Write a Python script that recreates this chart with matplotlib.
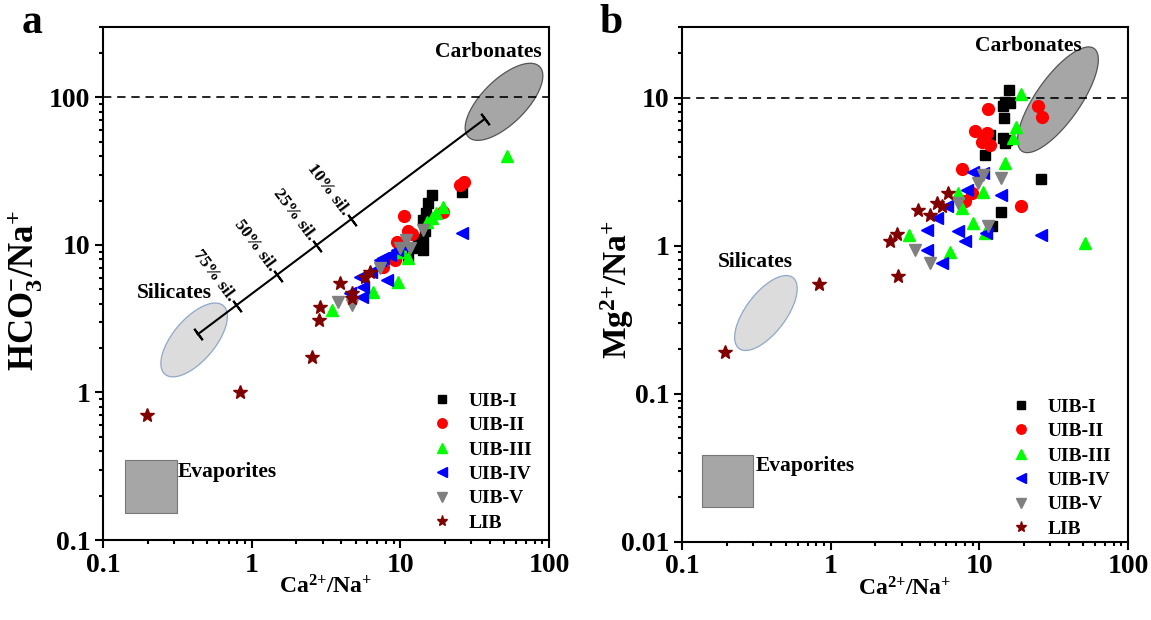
import matplotlib

matplotlib.use("Agg")
import matplotlib.pyplot as plt  # noqa: E402
import numpy as np  # noqa: E402
from matplotlib.patches import Rectangle  # noqa: E402
from matplotlib.ticker import FixedLocator, LogLocator, NullFormatter  # noqa: E402

plt.rcParams["font.family"] = "serif"
plt.rcParams["font.serif"] = ["Liberation Serif", "DejaVu Serif"]
plt.rcParams["font.weight"] = "bold"
plt.rcParams["axes.labelweight"] = "bold"
plt.rcParams["mathtext.fontset"] = "custom"
plt.rcParams["mathtext.rm"] = "Liberation Serif:bold"
plt.rcParams["mathtext.it"] = "Liberation Serif:bold"
plt.rcParams["mathtext.bf"] = "Liberation Serif:bold"

groups = ["UIB-I", "UIB-II", "UIB-III", "UIB-IV", "UIB-V", "LIB"]

# panel a: Ca2+/Na+ vs HCO3-/Na+
uib1_ca_a = [16.2, 15.4, 14.8, 14.3, 14.3, 14.3, 11.3, 11.9, 25.8, 14.6, 13.2]
uib1_hco3_a = [21.8, 19.2, 16.5, 14.8, 10.8, 9.25, 8.13, 9.5, 23.0, 12.5, 11.0]
uib2_ca_a = [25.2, 26.8, 10.6, 11.3, 11.9, 9.45, 9.2, 7.64, 19.4]
uib2_hco3_a = [25.5, 26.5, 15.7, 12.4, 11.9, 10.5, 7.91, 7.13, 16.8]
uib3_ca_a = [19.4, 17.5, 16.2, 15.0, 11.3, 9.68, 6.57, 3.45, 51.9, 10.2]
uib3_hco3_a = [18.2, 16.4, 15.2, 14.4, 8.13, 5.64, 4.82, 3.63, 40.0, 9.0]
uib4_ca_a = [25.8, 9.45, 8.51, 7.69, 7.29, 8.09, 5.35, 5.63, 4.58, 5.49, 6.3, 10.3]
uib4_hco3_a = [12.0, 9.25, 8.55, 8.13, 7.91, 5.79, 6.10, 5.22, 4.71, 4.46, 6.6, 10.0]
uib5_ca_a = [14.3, 10.9, 9.94, 11.6, 7.29, 3.82, 4.70]
uib5_hco3_a = [12.6, 10.8, 9.5, 9.5, 6.95, 4.13, 3.92]
lib_ca_a = [6.25, 5.78, 3.93, 4.70, 4.75, 2.88, 2.85, 2.53, 0.198, 0.83]
lib_hco3_a = [6.59, 6.10, 5.50, 4.71, 4.40, 3.82, 3.10, 1.75, 0.70, 1.0]

# panel b: Ca2+/Na+ vs Mg2+/Na+
uib1_ca_b = [15.9, 14.9, 16.1, 14.5, 14.7, 14.5, 15.3, 14.9, 10.9, 26.0, 14.1, 12.1, 11.8]
uib1_mg_b = [11.3, 9.4, 9.17, 8.79, 7.26, 5.32, 5.18, 4.92, 4.10, 2.81, 1.70, 1.35, 5.6]
uib2_ca_b = [11.4, 24.7, 26.5, 9.34, 11.2, 10.4, 11.8, 7.67, 8.96, 8.0, 19.1, 10.8]
uib2_mg_b = [8.35, 8.79, 7.38, 5.99, 5.75, 5.05, 4.79, 3.29, 2.26, 1.99, 1.84, 5.3]
uib3_ca_b = [19.2, 17.6, 16.9, 14.9, 10.6, 7.6, 9.1, 10.9, 3.38, 6.34, 51.3, 7.21]
uib3_mg_b = [10.6, 6.37, 5.32, 3.61, 2.32, 1.79, 1.42, 1.21, 1.18, 0.90, 1.05, 2.26]
uib4_ca_b = [9.1, 10.6, 8.22, 6.03, 5.16, 14.1, 4.42, 7.21, 8.0, 4.42, 5.58, 25.9, 11.1]
uib4_mg_b = [3.16, 3.09, 2.38, 1.84, 1.53, 2.20, 1.28, 1.25, 1.07, 0.94, 0.76, 1.18, 1.21]
uib5_ca_b = [10.6, 9.84, 14.1, 7.21, 11.5, 3.69, 4.65]
uib5_mg_b = [3.01, 2.64, 2.86, 1.94, 1.35, 0.94, 0.76]
lib_ca_b = [6.18, 5.58, 4.65, 3.88, 2.78, 2.50, 5.16, 2.85, 0.84, 0.195]
lib_mg_b = [2.28, 1.86, 1.61, 1.75, 1.20, 1.07, 1.94, 0.62, 0.55, 0.19]

# silicate-carbonate mixing line (panel a)
mix_ca = [0.434, 37.0]
mix_hco3 = [2.48, 71.5]
mix_tick_ca = [0.80, 1.50, 2.76, 4.7]
mix_tick_hco3 = [3.88, 6.19, 9.9, 14.8]
mix_labels = ["75% sil.", "50% sil.", "25% sil.", "10% sil."]

markers = ["s", "o", "^", "<", "v", "*"]
colors = ["black", "red", "#00ff00", "blue", "gray", "#800000"]
msizes = [7.5, 8.5, 9, 9, 9, 10]


def log_ellipse(ax, cx, cy, a, b, angle, face, edge):
    # ellipse defined in decades on log-log axes
    t = np.linspace(0, 2 * np.pi, 200)
    th = np.radians(angle)
    u, v = a * np.cos(t), b * np.sin(t)
    lx = np.log10(cx) + u * np.cos(th) - v * np.sin(th)
    ly = np.log10(cy) + u * np.sin(th) + v * np.cos(th)
    ax.fill(10 ** lx, 10 ** ly, facecolor=face, edgecolor=edge, lw=0.9, zorder=1)


def style_axes(ax, ymin, ymax, yticks, ylabels):
    ax.set_xscale("log")
    ax.set_yscale("log")
    ax.set_xlim(0.1, 100)
    ax.set_ylim(ymin, ymax)
    ax.xaxis.set_major_locator(FixedLocator([0.1, 1, 10, 100]))
    ax.set_xticklabels(["0.1", "1", "10", "100"])
    ax.yaxis.set_major_locator(FixedLocator(yticks))
    ax.set_yticklabels(ylabels)
    for axis in (ax.xaxis, ax.yaxis):
        axis.set_minor_locator(LogLocator(base=10, subs=range(2, 10)))
        axis.set_minor_formatter(NullFormatter())
    ax.tick_params(which="both", direction="out", top=False, right=False, width=1.5)
    ax.tick_params(which="major", length=6, labelsize=20, pad=3)
    ax.tick_params(which="minor", length=3)
    for s in ax.spines.values():
        s.set_linewidth(1.5)


def scatter_groups(ax, xs, ys, legend_y):
    for x, y, g, m, c, ms in zip(xs, ys, groups, markers, colors, msizes):
        ax.plot(x, y, ls="none", marker=m, color=c, ms=ms, mec=c, label=g, zorder=3)
    ax.legend(loc="lower left", bbox_to_anchor=(0.742, legend_y), frameon=False, fontsize=14,
              handlelength=0.8, handletextpad=1.0, labelspacing=0.35, markerscale=0.8,
              borderpad=0, borderaxespad=0)


fig = plt.figure(figsize=(11.51, 6.2), dpi=100)
ax1 = fig.add_axes([0.0895, 0.129, 0.3875, 0.8275])
ax2 = fig.add_axes([0.5925, 0.126, 0.3875, 0.8306])

# panel a
style_axes(ax1, 0.1, 300, [0.1, 1, 10, 100], ["0.1", "1", "10", "100"])
ax1.axhline(100, color="black", lw=1.2, ls=(0, (5, 3.5)), zorder=2)
log_ellipse(ax1, 49.8, 93.3, 0.338, 0.149, 45, "#a6a6a6", "#555555")
log_ellipse(ax1, 0.41, 2.27, 0.304, 0.142, 50, "#dcdcdc", "#8fa8c8")
ax1.add_patch(Rectangle((0.1406, 0.152), 0.315 - 0.1406, 0.348 - 0.152,
                        facecolor="#a6a6a6", edgecolor="#777777", lw=0.8, zorder=1))
ax1.plot(mix_ca, mix_hco3, color="black", lw=1.5, zorder=2)
p0, p1 = ax1.transData.transform([(mix_ca[0], mix_hco3[0]), (mix_ca[1], mix_hco3[1])])
ang = np.degrees(np.arctan2(p1[1] - p0[1], p1[0] - p0[0]))
ax1.plot(mix_ca + mix_tick_ca, mix_hco3 + mix_tick_hco3, ls="none", marker=(2, 2, ang),
         ms=10, mec="black", mew=1.5, zorder=2)
perp = np.radians(ang + 90)
for x, y, s in zip(mix_tick_ca, mix_tick_hco3, mix_labels):
    ax1.annotate(s, (x, y), xytext=(6 * np.cos(perp), 6 * np.sin(perp)), textcoords="offset points",
                 rotation=ang - 90, rotation_mode="anchor", ha="right", va="center", fontsize=12.5)
ax1.text(0.863, 0.951, "Carbonates", transform=ax1.transAxes, ha="center", va="center", fontsize=15.5)
ax1.text(0.159, 0.481, "Silicates", transform=ax1.transAxes, ha="center", va="center", fontsize=15.5)
ax1.text(0.168, 0.133, "Evaporites", transform=ax1.transAxes, ha="left", va="center", fontsize=15.5)
scatter_groups(ax1, [uib1_ca_a, uib2_ca_a, uib3_ca_a, uib4_ca_a, uib5_ca_a, lib_ca_a],
               [uib1_hco3_a, uib2_hco3_a, uib3_hco3_a, uib4_hco3_a, uib5_hco3_a, lib_hco3_a], 0.016)
ax1.set_xlabel("Ca$^{2{+}}$/Na$^{+}$", fontsize=17)
ax1.xaxis.set_label_coords(0.5, -0.068)
ax1.set_ylabel("HCO$_3^{-}$/Na$^{+}$", fontsize=25)
ax1.yaxis.set_label_coords(-0.13, 0.487)

# panel b
style_axes(ax2, 0.01, 30, [0.01, 0.1, 1, 10], ["0.01", "0.1", "1", "10"])
ax2.axhline(10, color="black", lw=1.2, ls=(0, (5, 3.5)), zorder=2)
log_ellipse(ax2, 33.8, 9.66, 0.423, 0.149, 55, "#a6a6a6", "#555555")
log_ellipse(ax2, 0.367, 0.351, 0.30, 0.135, 53, "#dcdcdc", "#8fa8c8")
ax2.add_patch(Rectangle((0.1355, 0.01714), 0.300 - 0.1355, 0.0386 - 0.01714,
                        facecolor="#a6a6a6", edgecolor="#777777", lw=0.8, zorder=1))
ax2.text(0.776, 0.963, "Carbonates", transform=ax2.transAxes, ha="center", va="center", fontsize=15.5)
ax2.text(0.164, 0.544, "Silicates", transform=ax2.transAxes, ha="center", va="center", fontsize=15.5)
ax2.text(0.166, 0.148, "Evaporites", transform=ax2.transAxes, ha="left", va="center", fontsize=15.5)
scatter_groups(ax2, [uib1_ca_b, uib2_ca_b, uib3_ca_b, uib4_ca_b, uib5_ca_b, lib_ca_b],
               [uib1_mg_b, uib2_mg_b, uib3_mg_b, uib4_mg_b, uib5_mg_b, lib_mg_b], 0.008)
ax2.set_xlabel("Ca$^{2{+}}$/Na$^{+}$", fontsize=17)
ax2.xaxis.set_label_coords(0.5, -0.068)
ax2.set_ylabel("Mg$^{2{+}}$/Na$^{+}$", fontsize=24)
ax2.yaxis.set_label_coords(-0.103, 0.49)

fig.text(0.019, 0.947, "a", fontsize=30, ha="left", va="baseline")
fig.text(0.521, 0.947, "b", fontsize=30, ha="left", va="baseline")

fig.savefig("out.png", dpi=100)
plt.close(fig)
